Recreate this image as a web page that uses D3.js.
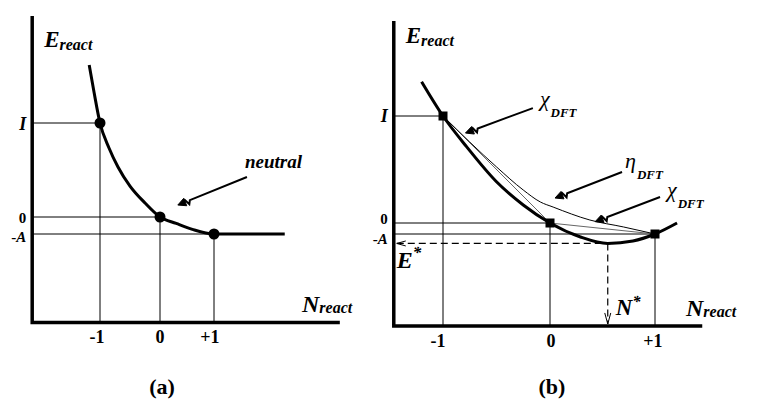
<!DOCTYPE html>
<html>
<head>
<meta charset="utf-8">
<script src="https://cdn.jsdelivr.net/npm/d3@7"></script>
<style>
  html, body { margin: 0; padding: 0; background: #fff; }
  svg text { font-family: 'Liberation Serif', 'Times New Roman', serif; font-weight: bold; }
</style>
</head>
<body>
<div id="chart"></div>
<script>
const W = 761, H = 408;
const FONT = "'Liberation Serif', 'Times New Roman', serif";

// shared tick labels on the N axis
const nTicks = [-1, 0, 1];
const nTickLabels = ['-1', '0', '+1'];

// panel (a): energy of the neutral reactant, E in units of A
const levelsA = [5.5, 0, -1];           // I, 0, -A
const neutralN = [-1.18, -1.1, -1, -0.85, -0.7, -0.5, -0.25, 0, 0.3, 0.6, 1, 2.31];
const neutralE = [8.89, 7.31, 5.5, 4.04, 2.93, 1.81, 0.82, 0, -0.38, -0.73, -1, -1];

// panel (b): DFT curve, eta curve and the minimum (N*, E*)
const levelsB = [9.73, 0, -1];          // I, 0, -A
const dftN = [-1.2, -1, -0.78, -0.5, -0.25, 0, 0.29, 0.55, 0.79, 1, 1.21];
const dftE = [12.85, 9.73, 6.94, 3.75, 1.64, 0, -1.27, -1.86, -1.64, -1, 0];
const etaN = [-1, -0.5, -0.25, -0.09, 0.03, 0.38, 0.7, 1];
const etaE = [9.73, 5.1, 3.0, 1.91, 1.45, 0.27, -0.36, -1];
const minStar = [0.55, -1.86];          // N*, E*

// annotation pointers: [tailN, tailE, tipN, tipE]
const pointersA = [[1.61, 2.34, 0.33, 0.70]];
const pointersB = [[-0.16, 10.45, -0.79, 8.18], [0.686, 4.64, 0.048, 2.27], [1.048, 2.36, 0.43, 0.12]];
const pointerTextA = ['neutral'];
const pointerTextB = ['\u03C7', '\u03B7', '\u03C7'];

const svg = d3.select('#chart').append('svg')
  .attr('width', W)
  .attr('height', H)
  .attr('font-family', FONT)
  .attr('font-weight', 'bold');

function pointer(g, x1, y1, x2, y2) {
  const L = Math.hypot(x2 - x1, y2 - y1);
  const ux = (x2 - x1) / L, uy = (y2 - y1) / L;
  const px = -uy, py = ux;
  const at = (s, t) => [x2 - ux * s + px * t, y2 - uy * s + py * t];
  g.append('path')
    .attr('d', d3.line()([[x1, y1], at(13, 0), at(11, -3.5), at(8.5, 2), at(6, 0)]))
    .attr('fill', 'none')
    .attr('stroke', '#000')
    .attr('stroke-width', 2);
  g.append('path')
    .attr('d', d3.line()([[x2, y2], at(8, 4), at(8, -4)]) + 'Z')
    .attr('fill', '#000')
    .attr('stroke', '#000')
    .attr('stroke-width', 1);
}

function drawPanel(cfg) {
  const { x, y, levels } = cfg;
  const g = svg.append('g');
  const [n0, n1] = cfg.nExtent, [e0, e1] = cfg.eExtent;

  // thin reference lines from the axis to the points and down to the N axis
  levels.forEach((e, i) => {
    g.append('line')
      .attr('x1', x(n0)).attr('x2', x(nTicks[i]))
      .attr('y1', y(e)).attr('y2', y(e))
      .attr('stroke', '#000').attr('stroke-width', 1);
    g.append('line')
      .attr('x1', x(nTicks[i])).attr('x2', x(nTicks[i]))
      .attr('y1', y(e)).attr('y2', y(e0))
      .attr('stroke', '#000').attr('stroke-width', 1);
  });

  // axes
  g.append('path')
    .attr('d', d3.line()([[x(n0), y(e1)], [x(n0), y(e0)], [x(n1), y(e0)]]))
    .attr('fill', 'none')
    .attr('stroke', '#000')
    .attr('stroke-width', 3.5)
    .attr('stroke-linejoin', 'miter');

  // tick labels on N
  g.selectAll('text.ntick')
    .data(nTicks)
    .join('text')
    .attr('class', 'ntick')
    .attr('x', (d, i) => x(d) + cfg.tickDx[i])
    .attr('y', y(e0) + cfg.tickDy)
    .attr('text-anchor', 'middle')
    .attr('font-size', 18)
    .text((d, i) => nTickLabels[i]);

  // level labels I, 0, -A
  const lx = x(n0) - 6;
  g.append('text').attr('x', lx).attr('y', y(levels[0]) + cfg.levelDy[0])
    .attr('text-anchor', 'end').attr('font-size', 18).attr('font-style', 'italic').text('I');
  g.append('text').attr('x', lx).attr('y', y(levels[1]) + cfg.levelDy[1])
    .attr('text-anchor', 'end').attr('font-size', 15).text('0');
  const ta = g.append('text').attr('x', lx).attr('y', y(levels[2]) + cfg.levelDy[2])
    .attr('text-anchor', 'end').attr('font-size', 15);
  ta.append('tspan').text('-');
  ta.append('tspan').attr('font-style', 'italic').text('A');

  // axis titles
  const et = g.append('text').attr('x', x(n0) + 12).attr('y', cfg.eTitleY).attr('font-style', 'italic');
  et.append('tspan').attr('font-size', 23).text('E');
  et.append('tspan').attr('font-size', 16).attr('dy', 3).text('react');
  const nt = g.append('text').attr('x', cfg.nTitleX).attr('y', y(e0) - 10).attr('font-style', 'italic');
  nt.append('tspan').attr('font-size', 24).text('N');
  nt.append('tspan').attr('font-size', 16).attr('dy', 1).text('react');

  // panel letter
  g.append('text')
    .attr('x', x(0) + 2)
    .attr('y', 394)
    .attr('text-anchor', 'middle')
    .attr('font-size', 22)
    .text(cfg.letter);

  return g;
}

// ---------- panel (a) ----------
const xA = d3.scaleLinear().domain([-1, 0, 1]).range([100, 160, 214]);
const yA = d3.scaleLinear().domain([-1, 0, 5.5]).range([234, 217, 123]);
const gA = drawPanel({
  x: xA, y: yA, levels: levelsA,
  nExtent: [-2.13, 3.33], eExtent: [-6.2, 11.76],
  tickDx: [-3, 0, -4], tickDy: 21, levelDy: [7, 6, 8],
  eTitleY: 47, nTitleX: 302, letter: '(a)'
});

gA.append('path')
  .datum(d3.zip(neutralN, neutralE))
  .attr('d', d3.line().x(d => xA(d[0])).y(d => yA(d[1])).curve(d3.curveMonotoneX))
  .attr('fill', 'none')
  .attr('stroke', '#000')
  .attr('stroke-width', 3);

gA.selectAll('circle')
  .data(nTicks)
  .join('circle')
  .attr('cx', d => xA(d))
  .attr('cy', (d, i) => yA(levelsA[i]))
  .attr('r', 5.5)
  .attr('fill', '#000');

pointersA.forEach((p, i) => {
  pointer(gA, xA(p[0]), yA(p[1]), xA(p[2]), yA(p[3]));
  gA.append('text')
    .attr('x', xA(p[0]) - 2)
    .attr('y', yA(p[1]) - 9)
    .attr('font-size', 19)
    .attr('font-style', 'italic')
    .text(pointerTextA[i]);
});

// ---------- panel (b) ----------
const xB = d3.scaleLinear().domain([-1, 0, 1]).range([443, 550, 655]);
const yB = d3.scaleLinear().domain([-1, 0, 9.73]).range([234, 223, 116]);
const gB = drawPanel({
  x: xB, y: yB, levels: levelsB,
  nExtent: [-1.46, 1.45], eExtent: [-9.36, 18.36],
  tickDx: [-5, 1, -2], tickDy: 21, levelDy: [6, 1, 10],
  eTitleY: 43, nTitleX: 686, letter: '(b)'
});

// dashed lines to the minimum
const [ns, es] = minStar;
gB.append('line')
  .attr('x1', xB(-1.46) + 3).attr('x2', xB(ns))
  .attr('y1', yB(es)).attr('y2', yB(es))
  .attr('stroke', '#000').attr('stroke-width', 1.2).attr('stroke-dasharray', '7,4');
gB.append('line')
  .attr('x1', xB(ns)).attr('x2', xB(ns))
  .attr('y1', yB(es)).attr('y2', yB(-9.36) - 2)
  .attr('stroke', '#000').attr('stroke-width', 1.2).attr('stroke-dasharray', '7,4');
const ax = xB(-1.46) + 3, ay = yB(es);
gB.append('path')
  .attr('d', d3.line()([[ax + 9, ay - 2.5], [ax, ay], [ax + 9, ay + 2.5]]))
  .attr('fill', 'none').attr('stroke', '#000').attr('stroke-width', 1);
const bx = xB(ns), by = yB(-9.36) - 2;
gB.append('path')
  .attr('d', d3.line()([[bx - 3, by - 11], [bx, by], [bx + 3, by - 11]]))
  .attr('fill', 'none').attr('stroke', '#000').attr('stroke-width', 1);

// E* and N* labels
const es_t = gB.append('text').attr('x', ax).attr('y', yB(es) + 25).attr('font-style', 'italic');
es_t.append('tspan').attr('font-size', 24).text('E');
es_t.append('tspan').attr('font-size', 17).attr('dy', -10).text('*');
const ns_t = gB.append('text').attr('x', xB(ns) + 8).attr('y', yB(-9.36) - 11).attr('font-style', 'italic');
ns_t.append('tspan').attr('font-size', 23).text('N');
ns_t.append('tspan').attr('font-size', 16).attr('dy', -8).text('*');

// chords (chi) between the integer points
gB.append('path')
  .attr('d', d3.line()(nTicks.map((d, i) => [xB(d), yB(levelsB[i])])))
  .attr('fill', 'none')
  .attr('stroke', '#666')
  .attr('stroke-width', 1);

// eta curve
gB.append('path')
  .datum(d3.zip(etaN, etaE))
  .attr('d', d3.line().x(d => xB(d[0])).y(d => yB(d[1])).curve(d3.curveMonotoneX))
  .attr('fill', 'none')
  .attr('stroke', '#000')
  .attr('stroke-width', 1);

// DFT curve
gB.append('path')
  .datum(d3.zip(dftN, dftE))
  .attr('d', d3.line().x(d => xB(d[0])).y(d => yB(d[1])).curve(d3.curveMonotoneX))
  .attr('fill', 'none')
  .attr('stroke', '#000')
  .attr('stroke-width', 3);

gB.selectAll('rect')
  .data(nTicks)
  .join('rect')
  .attr('x', d => xB(d) - 4.5)
  .attr('y', (d, i) => yB(levelsB[i]) - 4.5)
  .attr('width', 9)
  .attr('height', 9)
  .attr('fill', '#000');

const labelOffB = [[7, -2], [3, -4], [7, 0]];
pointersB.forEach((p, i) => {
  pointer(gB, xB(p[0]), yB(p[1]), xB(p[2]), yB(p[3]));
  const t = gB.append('text')
    .attr('x', xB(p[0]) + labelOffB[i][0])
    .attr('y', yB(p[1]) + labelOffB[i][1])
    .attr('font-style', 'italic');
  t.append('tspan').attr('font-size', 22).attr('font-weight', 'normal').text(pointerTextB[i]);
  t.append('tspan').attr('font-size', 13).attr('dy', 11).attr('dx', 1).text('DFT');
});
</script>
</body>
</html>
